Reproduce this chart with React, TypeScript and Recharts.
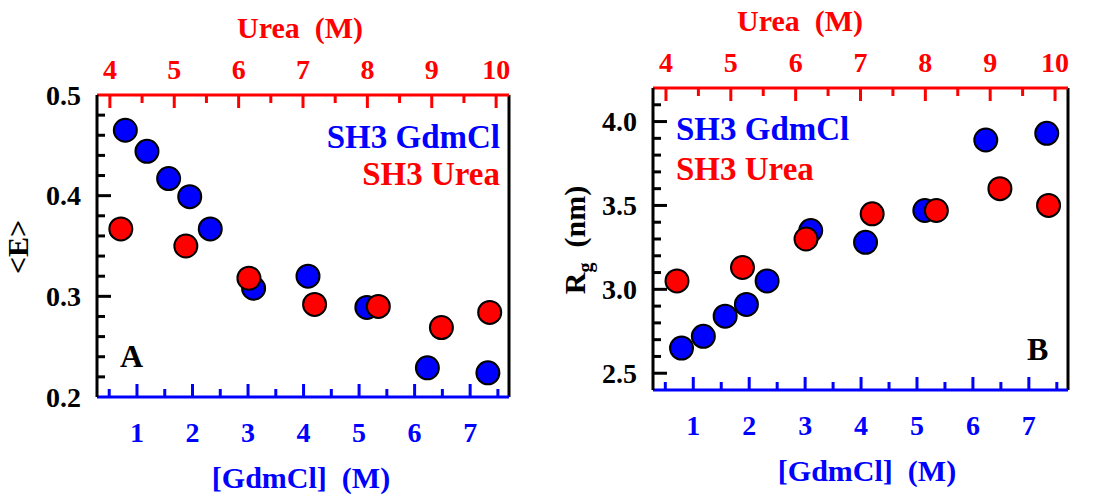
import { ScatterChart, Scatter, XAxis, YAxis, ReferenceLine } from 'recharts'

const BLUE = '#0000ff'
const RED = '#ff0000'
const FONT = '"Liberation Serif", "Times New Roman", serif'

// denaturant concentrations (M)
const gdmclConc = [0.79, 1.18, 1.57, 1.95, 2.32, 3.1, 4.08, 5.14, 6.23, 7.32]
const ureaConc = [4.17, 5.18, 6.16, 7.18, 8.17, 9.15, 9.9]

// mean FRET efficiency <E>
const effGdmcl = [0.465, 0.444, 0.417, 0.399, 0.367, 0.308, 0.32, 0.289, 0.229, 0.224]
const effUrea = [0.367, 0.35, 0.318, 0.292, 0.29, 0.269, 0.284]

// radius of gyration Rg (nm)
const rgGdmcl = [2.65, 2.72, 2.84, 2.91, 3.05, 3.35, 3.28, 3.47, 3.89, 3.93]
const rgUrea = [3.05, 3.13, 3.3, 3.45, 3.47, 3.6, 3.5]

// axis ticks (integers / tenths get labels, the rest are minor)
const gdmclTicks = [0.5, 1, 1.5, 2, 2.5, 3, 3.5, 4, 4.5, 5, 5.5, 6, 6.5, 7, 7.5]
const ureaTicks = [4, 4.5, 5, 5.5, 6, 6.5, 7, 7.5, 8, 8.5, 9, 9.5, 10]
const effTicks = [0.2, 0.22, 0.24, 0.26, 0.28, 0.3, 0.32, 0.34, 0.36, 0.38, 0.4, 0.42, 0.44, 0.46, 0.48, 0.5]
const rgTicks = [2.4, 2.5, 2.6, 2.7, 2.8, 2.9, 3.0, 3.1, 3.2, 3.3, 3.4, 3.5, 3.6, 3.7, 3.8, 3.9, 4.0, 4.1, 4.2]

const GDM_DOMAIN: [number, number] = [0.28, 7.7]
const UREA_DOMAIN: [number, number] = [3.8, 10.2]

const zip = (xs: number[], ys: number[]) => xs.map((x, i) => ({ x, y: ys[i] }))

const dot = (color: string) => (props: any) => (
  <circle cx={props.cx} cy={props.cy} r={11.5} fill={color} stroke="#000" strokeWidth={2} />
)

const isInt = (v: number, step: number) => Math.abs(v / step - Math.round(v / step)) < 1e-6

const xTick = (side: 'top' | 'bottom', color: string) => (props: any) => {
  const { x, y, payload } = props
  const v = payload.value as number
  const major = isInt(v, 1)
  const dir = side === 'bottom' ? -1 : 1
  return (
    <g>
      <line x1={x} x2={x} y1={y} y2={y + dir * (major ? 13 : 8)} stroke={color} strokeWidth={3} />
      {major && (
        <text x={x} y={side === 'bottom' ? y + 45 : y - 16} textAnchor="middle" fill={color}
          fontSize={28} fontWeight="bold" fontFamily={FONT}>{v}</text>
      )}
    </g>
  )
}

const yTick = (majorStep: number, domain: [number, number]) => (props: any) => {
  const { x, y, payload } = props
  const v = payload.value as number
  const major = isInt(v, majorStep)
  const edge = Math.abs(v - domain[0]) < 1e-6 || Math.abs(v - domain[1]) < 1e-6
  return (
    <g>
      {!edge && <line x1={x} x2={x + (major ? 14 : 8)} y1={y} y2={y} stroke="#000" strokeWidth={3} />}
      {major && (
        <text x={x - 16} y={y} dy="0.35em" textAnchor="end" fill="#000"
          fontSize={28} fontWeight="bold" fontFamily={FONT}>{v.toFixed(1)}</text>
      )}
    </g>
  )
}

const txt = { fontFamily: FONT, fontWeight: 'bold' as const }

type PanelProps = {
  width: number
  margin: { top: number; right: number; bottom: number; left: number }
  yDomain: [number, number]
  yTicks: number[]
  yMajor: number
  blue: number[]
  red: number[]
  children?: React.ReactNode
}

function Panel({ width, margin, yDomain, yTicks, yMajor, blue, red, children }: PanelProps) {
  return (
    <ScatterChart width={width} height={497} margin={margin}>
      <XAxis xAxisId="g" type="number" dataKey="x" orientation="bottom" domain={GDM_DOMAIN}
        allowDataOverflow ticks={gdmclTicks} interval={0} height={30} tickSize={0} tickMargin={0}
        tickLine={false} axisLine={{ stroke: BLUE, strokeWidth: 3 }} tick={xTick('bottom', BLUE)} />
      <XAxis xAxisId="u" type="number" dataKey="x" orientation="top" domain={UREA_DOMAIN}
        allowDataOverflow ticks={ureaTicks} interval={0} height={30} tickSize={0} tickMargin={0}
        tickLine={false} axisLine={{ stroke: RED, strokeWidth: 3 }} tick={xTick('top', RED)} />
      <YAxis yAxisId="y" type="number" dataKey="y" domain={yDomain} allowDataOverflow
        ticks={yTicks} interval={0} width={40} tickSize={0} tickMargin={0} tickLine={false}
        axisLine={{ stroke: '#000', strokeWidth: 3 }} tick={yTick(yMajor, yDomain)} />
      <ReferenceLine xAxisId="g" yAxisId="y" x={GDM_DOMAIN[1]} stroke="#000" strokeWidth={3} />
      <Scatter xAxisId="g" yAxisId="y" data={zip(gdmclConc, blue)} shape={dot(BLUE)}
        isAnimationActive={false} />
      <Scatter xAxisId="u" yAxisId="y" data={zip(ureaConc, red)} shape={dot(RED)}
        isAnimationActive={false} />
      {children}
    </ScatterChart>
  )
}

export default function App() {
  return (
    <div style={{ position: 'absolute', left: 0, top: 0, width: 1097, height: 497, display: 'flex', background: '#fff' }}>
      <Panel width={550} margin={{ top: 65, right: 41, bottom: 70, left: 57 }}
        yDomain={[0.2, 0.5]} yTicks={effTicks} yMajor={0.1} blue={effGdmcl} red={effUrea}>
        <text x={300} y={38} textAnchor="middle" fill={RED} fontSize={30} {...txt} xmlSpace="preserve">Urea  (M)</text>
        <text x={301} y={488} textAnchor="middle" fill={BLUE} fontSize={30} {...txt} xmlSpace="preserve">[GdmCl]  (M)</text>
        <text x={28} y={247} transform="rotate(-90 28 247)" textAnchor="middle" fill="#000" fontSize={30} {...txt}>{'<E>'}</text>
        <text x={500} y={148} textAnchor="end" fill={BLUE} fontSize={33} {...txt}>SH3 GdmCl</text>
        <text x={500} y={185} textAnchor="end" fill={RED} fontSize={33} {...txt}>SH3 Urea</text>
        <text x={120} y={367} fill="#000" fontSize={32} {...txt}>A</text>
      </Panel>
      <Panel width={547} margin={{ top: 58, right: 29, bottom: 77, left: 63 }}
        yDomain={[2.4, 4.2]} yTicks={rgTicks} yMajor={0.5} blue={rgGdmcl} red={rgUrea}>
        <text x={250} y={31} textAnchor="middle" fill={RED} fontSize={30} {...txt} xmlSpace="preserve">Urea  (M)</text>
        <text x={317} y={481} textAnchor="middle" fill={BLUE} fontSize={30} {...txt} xmlSpace="preserve">[GdmCl]  (M)</text>
        <text x={35} y={240} transform="rotate(-90 35 240)" textAnchor="middle" fill="#000" fontSize={30} {...txt} xmlSpace="preserve">
          R<tspan fontSize={20} dy={7}>g</tspan><tspan dy={-7}>  (nm)</tspan>
        </text>
        <text x={126} y={140} fill={BLUE} fontSize={33} {...txt}>SH3 GdmCl</text>
        <text x={126} y={180} fill={RED} fontSize={33} {...txt}>SH3 Urea</text>
        <text x={477} y={360} fill="#000" fontSize={32} {...txt}>B</text>
      </Panel>
    </div>
  )
}
